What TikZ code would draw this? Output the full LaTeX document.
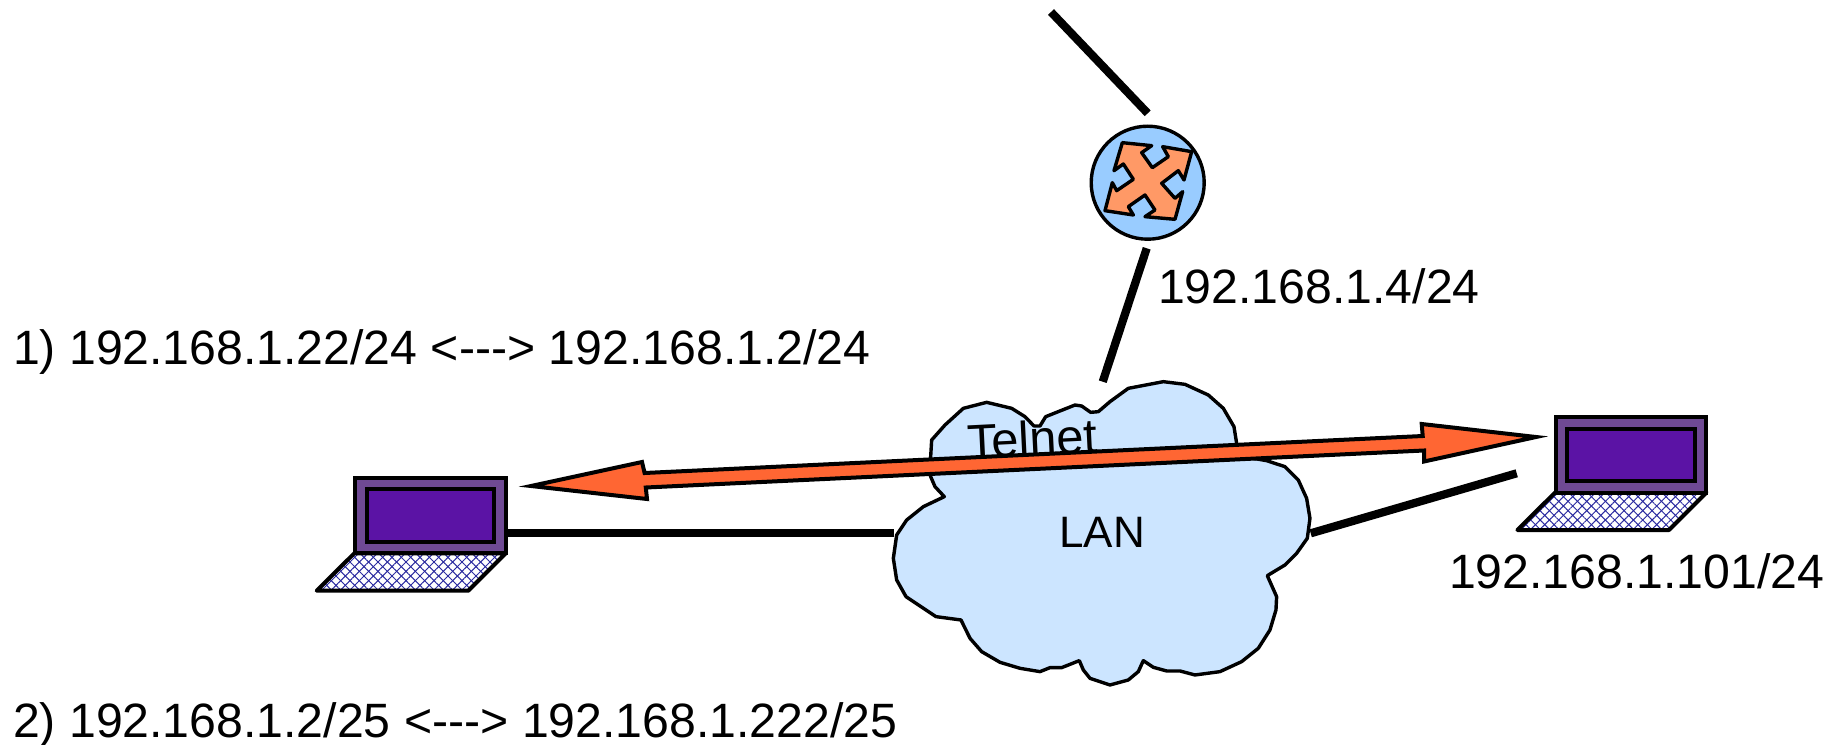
\documentclass[tikz,border=0pt]{standalone}
\usepackage{fontspec}
\setmainfont{Liberation Sans}
\usepackage{xcolor}
\usetikzlibrary{patterns.meta}
\definecolor{netCloud}{HTML}{CCE5FF}
\definecolor{netRouter}{HTML}{99CCFF}
\definecolor{netCross}{HTML}{FF9966}
\definecolor{netArrow}{HTML}{FF6633}
\definecolor{netLid}{HTML}{6F4A94}
\definecolor{netScreen}{HTML}{5B13A5}
\definecolor{netKeys}{HTML}{2A2A9F}
% laptop: name, top-left corner of the lid
\newcommand{\laptopnode}[3]{%
\path[keys] (#2,#3+76.6) -- ++(151.4,0) -- ++(-37.4,37.4) -- ++(-151.6,0) -- cycle;
\node[lid, anchor=north west] (#1) at (#2+1,#3+1) {};
\node[screen] (#1S) at (#1.center) {};
}

\begin{document}
\begin{tikzpicture}[
x=0.5pt, y=-0.5pt,
every node/.style={font=\fontsize{24.1}{28}\selectfont, inner sep=0pt, outer sep=0pt},
addr/.style={anchor=base west},
link/.style={draw, line width=4.1pt},
lid/.style={draw, fill=netLid, line width=2pt, minimum width=75.2pt, minimum height=37.8pt},
screen/.style={draw, fill=netScreen, line width=2pt, minimum width=63.8pt, minimum height=26.2pt},
keys/.style={draw, line width=2pt, line join=round,
  preaction={pattern={Lines[angle=45,distance=3.3pt,line width=.5pt]}, pattern color=netKeys},
  pattern={Lines[angle=-45,distance=3.3pt,line width=.5pt]}, pattern color=netKeys},
outline/.style={draw, line width=1.7pt, line join=round}
]
\useasboundingbox (0,0) rectangle (1841,744);

% Router
\node[circle, draw, fill=netRouter, line width=1.7pt, minimum size=56.5pt] (router) at (1147.7,182.7) {};
\begin{scope}[shift={(1060,100)}, scale=0.3333]
\path[outline, fill=netCross] (187,128) -- (275,137) -- (245,158) -- (277,203) -- (325,170) -- (308,140) -- (395,155)
  -- (372,240) -- (355,212) -- (305,250) -- (345,295) -- (368,275) -- (345,358) -- (255,350) -- (285,330) -- (255,285)
  -- (205,320) -- (220,345) -- (135,332) -- (157,248) -- (170,272) -- (220,238) -- (190,192) -- (162,212) -- cycle;
\end{scope}

% Cloud
\begin{scope}[shift={(880,370)}, scale=0.3333]
\path[outline, fill=netCloud] (155,210) -- (195,165) -- (250,115) -- (320,97) -- (395,115) -- (435,140) -- (462,168)
  -- (480,168) -- (497,140) -- (585,105) -- (605,108) -- (632,127) -- (655,125) -- (690,95) -- (745,55) -- (850,35)
  -- (915,43) -- (985,75) -- (1030,115) -- (1062,170) -- (1070,220) -- (1075,245) -- (1120,265) -- (1160,272) -- (1215,290)
  -- (1255,330) -- (1280,385) -- (1290,445) -- (1282,505) -- (1250,550) -- (1215,585) -- (1162,617) -- (1190,680)
  -- (1188,720) -- (1170,780) -- (1135,835) -- (1085,875) -- (1020,905) -- (945,915) -- (900,903) -- (860,903)
  -- (820,892) -- (790,872) -- (775,905) -- (745,930) -- (690,945) -- (630,925) -- (610,900) -- (598,872) -- (545,893)
  -- (510,893) -- (480,905) -- (420,895) -- (360,877) -- (305,845) -- (270,805) -- (243,750) -- (168,740) -- (78,680)
  -- (50,630) -- (40,565) -- (50,495) -- (80,450) -- (130,410) -- (193,380) -- (165,350) -- (152,320) -- (152,260) -- cycle;
\end{scope}
\node[addr, font=\fontsize{22}{26}\selectfont] (lan) at (1059.5,547.7) {LAN};
\node[addr, font=\fontsize{24.4}{29}\selectfont, rotate=2.8] (telnet) at (968,459) {Telnet};

% Laptops
\laptopnode{laptopL}{354.3}{476.7}
\laptopnode{laptopR}{1555}{416}

% Telnet arrow
\path[draw, fill=netArrow, line width=2pt, line join=miter] (531,486) -- (642,462) -- (644.6,473) -- (1422.7,436)
  -- (1421.7,424) -- (1536,437) -- (1424,461.5) -- (1424,450.5) -- (645.8,487.5) -- (647,499) -- cycle;

% Links
\coordinate (wanEnd) at (1051,12);
\coordinate (routerTop) at (1147.7,113.3);
\coordinate (routerBot) at (1146.7,248.3);
\coordinate (cloudTop) at (1102.7,381.7);
\coordinate (cloudL) at (894,533.3);
\coordinate (cloudR) at (1310.7,533.3);
\coordinate (laptopREnd) at (1516.7,473.3);
\draw[link] (wanEnd) -- (routerTop);
\draw[link] (routerBot) -- (cloudTop);
\draw[link] (laptopL.east |- cloudL) -- (cloudL);
\draw[link] (cloudR) -- (laptopREnd);

% Addresses
\node[addr] (routerIP) at (1158,303) {192.168.1.4/24};
\node[addr] (laptopIP) at (1449,588) {192.168.1.101/24};
\node[addr] (caseA) at (13,364) {1) 192.168.1.22/24 <-{}-{}-> 192.168.1.2/24};
\node[addr] (caseB) at (13,737) {2) 192.168.1.2/25 <-{}-{}-> 192.168.1.222/25};
\end{tikzpicture}
\end{document}
